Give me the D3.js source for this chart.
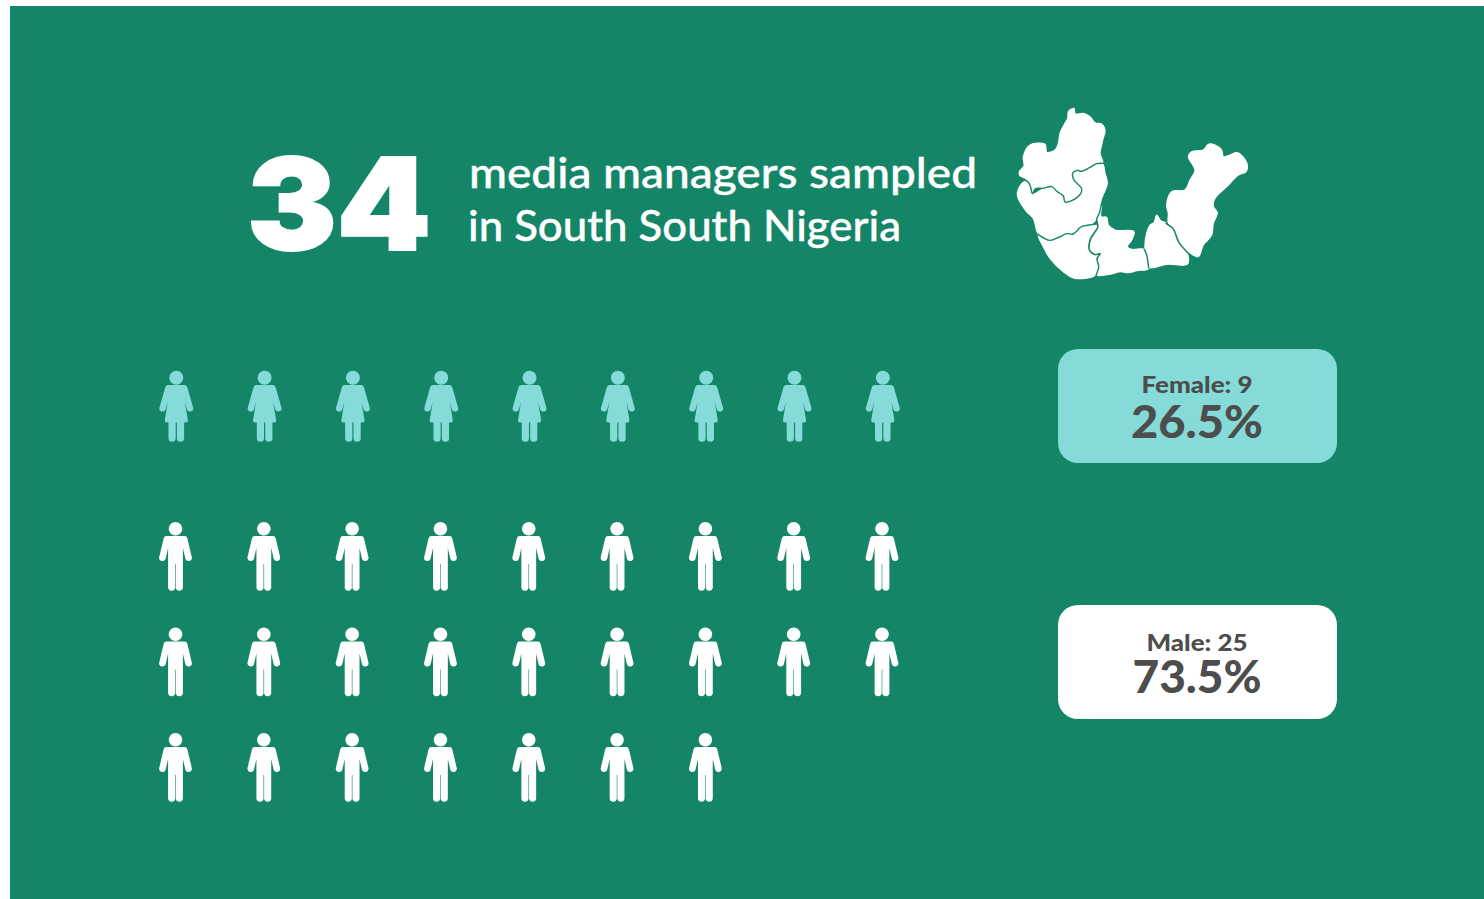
<!DOCTYPE html>
<html>
<head>
<meta charset="utf-8">
<script src="https://cdn.jsdelivr.net/npm/d3@7/dist/d3.min.js"></script>
<style>
html,body{margin:0;padding:0;background:#fff;overflow:hidden}
svg{display:block}
</style>
</head>
<body>
<svg id="chart" width="1484" height="899"></svg>
<script>
// Sample composition
const categories = ["Female", "Male"];
const counts = [9, 25];
const shares = ["26.5%", "73.5%"];
const total = 34;
const headlineLines = ["media managers sampled", "in South South Nigeria"];
const perRow = 9;

const colours = { ground: "#158568", teal: "#84dbd7", white: "#ffffff", ink: "#4d4d4d" };

// Pictogram glyphs, drawn from the top centre of the head
const maleBody = "M-9,14H9Q11.4,14 11.9,16.4L16.4,35.4A3.4,3.4 0 0 1 9.9,37L7.4,26V65.8A3.6,3.6 0 0 1 .3,65.8V42H-.3V65.8A3.6,3.6 0 0 1 -7.4,65.8V26L-9.9,37A3.4,3.4 0 0 1 -16.4,35.4L-11.9,16.4Q-11.4,14 -9,14Z";
const femaleBody = "M-8,14H8Q10.4,14 11.1,16.4L16.8,36.4A3.2,3.2 0 0 1 10.6,38.2L8.6,31L11.6,49.5Q11.8,51.5 9.6,51.5H7.8V67.2A3.6,3.6 0 0 1 .6,67.2V51.5H-.6V67.2A3.6,3.6 0 0 1 -7.8,67.2V51.5H-9.6Q-11.8,51.5 -11.6,49.5L-8.6,31L-10.6,38.2A3.2,3.2 0 0 1 -16.8,36.4L-11.1,16.4Q-10.4,14 -8,14Z";

// State outlines of the South South zone, in map units
const states = [
  { name: "Edo", outline: [[205,65],[213,58],[222,55],[226,72],[250,70],[270,80],[285,98],[305,102],[315,120],[308,150],[305,165],[300,190],[308,218],[290,220],[270,232],[245,243],[232,240],[218,250],[222,270],[245,295],[240,312],[215,332],[195,335],[190,318],[172,305],[155,290],[130,295],[105,293],[97,310],[90,285],[80,272],[60,258],[58,245],[72,228],[70,200],[90,165],[135,163],[140,187],[165,180],[175,160],[180,130],[195,100],[203,85]] },
  { name: "Delta", outline: [[68,278],[85,278],[97,312],[130,297],[155,292],[190,318],[195,338],[220,330],[245,310],[245,295],[222,270],[220,245],[235,243],[248,245],[290,222],[308,222],[315,250],[322,280],[305,325],[300,345],[290,385],[275,402],[240,410],[220,430],[200,430],[178,440],[150,450],[115,432],[100,385],[80,365],[52,315]] },
  { name: "Bayelsa", outline: [[115,436],[150,452],[180,442],[200,432],[220,434],[245,412],[275,405],[290,405],[285,425],[270,445],[268,480],[285,495],[300,492],[290,505],[295,530],[287,555],[225,565],[190,545],[150,505],[130,470]] },
  { name: "Rivers", outline: [[305,345],[303,380],[320,382],[325,405],[345,420],[402,425],[395,450],[382,470],[395,478],[432,478],[440,495],[447,535],[410,542],[385,548],[360,545],[335,552],[292,555],[298,525],[295,508],[302,492],[285,490],[272,478],[275,450],[293,420],[295,395],[290,385]] },
  { name: "Akwa Ibom", outline: [[470,375],[482,392],[497,398],[500,405],[520,420],[535,455],[562,490],[562,522],[500,523],[447,532],[435,462],[450,405],[462,398]] },
  { name: "Cross River", outline: [[625,163],[645,165],[665,180],[670,200],[690,195],[712,188],[740,218],[738,245],[715,255],[680,290],[645,325],[640,350],[652,368],[640,400],[635,435],[610,465],[595,500],[565,485],[545,465],[525,420],[505,398],[505,370],[500,345],[515,305],[555,300],[570,270],[585,240],[565,200],[575,185],[610,180]] }
];

// Shared state borders, in map units
const borders = [
  [[62,262],[85,277],[92,292],[97,311],[107,296],[130,295],[155,290],[172,305],[190,318],[195,336],[215,332],[242,311],[245,296],[222,270],[218,250],[232,241],[245,244],[270,232],[290,221],[310,220]],
  [[114,433],[150,451],[178,441],[200,431],[220,432],[243,411],[275,404],[290,402]],
  [[304,343],[298,370],[290,388],[294,410],[285,425],[271,447],[268,480],[285,494],[301,491],[291,505],[296,530],[288,556]],
  [[433,478],[440,495],[446,534]],
  [[498,400],[520,417],[535,455],[563,488]]
];

const svg = d3.select("#chart");

svg.append("rect")
  .attr("x", 10).attr("y", 6).attr("width", 1474).attr("height", 893)
  .attr("fill", colours.ground);

// Headline
svg.append("text")
  .attr("x", 247).attr("y", 250)
  .attr("font-family", "Inter").attr("font-weight", 900).attr("font-size", 128)
  .attr("textLength", 184).attr("lengthAdjust", "spacingAndGlyphs")
  .attr("fill", colours.white).attr("stroke", colours.white).attr("stroke-width", 2)
  .text(total);

svg.append("g").selectAll("text").data(headlineLines).join("text")
  .attr("x", (d, i) => i === 0 ? 469 : 468)
  .attr("y", (d, i) => i === 0 ? 188 : 241)
  .attr("font-family", "Lato").attr("font-weight", 500).attr("font-size", 43)
  .attr("textLength", (d, i) => i === 0 ? 508 : 433).attr("lengthAdjust", "spacingAndGlyphs")
  .attr("fill", colours.white).attr("stroke", colours.white).attr("stroke-width", 0.4)
  .text(d => d);

// Zone map: white silhouette first, then the borders over it
const mapX = d3.scaleLinear().domain([0, 810]).range([1000, 1270]);
const mapY = d3.scaleLinear().domain([0, 600]).range([90, 290]);
const outline = d3.line().x(d => mapX(d[0])).y(d => mapY(d[1])).curve(d3.curveCatmullRomClosed.alpha(0.5));
const borderLine = d3.line().x(d => mapX(d[0])).y(d => mapY(d[1])).curve(d3.curveCatmullRom.alpha(0.5));
svg.append("g").selectAll("path").data(states).join("path")
  .attr("d", d => outline(d.outline))
  .attr("fill", colours.white)
  .attr("stroke", colours.white).attr("stroke-width", 1.2).attr("stroke-linejoin", "round");
svg.append("g").selectAll("path").data(borders).join("path")
  .attr("d", d => borderLine(d))
  .attr("fill", "none")
  .attr("stroke", colours.ground).attr("stroke-width", 1.4).attr("stroke-linecap", "round");

// Pictogram grid
const col = d3.scaleLinear().domain([0, perRow - 1]).range([175.5, 882]);
const femaleRowTop = d3.scaleOrdinal().domain([0]).range([371]);
const maleRow = d3.scaleLinear().domain([0, 2]).range([522, 733]);

function person(g, x, y, head, body, fill) {
  const p = g.append("g").attr("transform", `translate(${x},${y})`).attr("fill", fill);
  p.append("circle").attr("cy", head.cy).attr("r", head.r);
  p.append("path").attr("d", body);
}

const icons = svg.append("g");
d3.range(counts[0]).forEach(i =>
  person(icons, col(i % perRow) + 0.8, femaleRowTop(Math.floor(i / perRow)),
    { cy: 6.8, r: 7 }, femaleBody, colours.teal));
d3.range(counts[1]).forEach(i =>
  person(icons, col(i % perRow), maleRow(Math.floor(i / perRow)),
    { cy: 6.8, r: 6.8 }, maleBody, colours.white));

// Summary cards
const cardY = d3.scaleOrdinal().domain(categories).range([349, 605]);
const cardFill = d3.scaleOrdinal().domain(categories).range([colours.teal, colours.white]);
const cards = svg.append("g").selectAll("g").data(categories).join("g")
  .attr("transform", d => `translate(1058,${cardY(d)})`);
cards.append("rect")
  .attr("width", 279).attr("height", 114).attr("rx", 20)
  .attr("fill", d => cardFill(d));
cards.append("text")
  .attr("x", 139).attr("y", (d, i) => i === 0 ? 44 : 46)
  .attr("text-anchor", "middle")
  .attr("font-family", "Lato").attr("font-weight", 900).attr("font-size", 23)
  .attr("textLength", (d, i) => i === 0 ? 111 : 101).attr("lengthAdjust", "spacingAndGlyphs")
  .attr("fill", colours.ink)
  .text((d, i) => `${d}: ${counts[i]}`);
cards.append("text")
  .attr("x", 139).attr("y", (d, i) => i === 0 ? 89 : 88)
  .attr("text-anchor", "middle")
  .attr("font-family", "Lato").attr("font-weight", 900).attr("font-size", 46)
  .attr("textLength", (d, i) => i === 0 ? 132 : 129).attr("lengthAdjust", "spacingAndGlyphs")
  .attr("fill", colours.ink)
  .text((d, i) => shares[i]);
</script>
</body>
</html>
